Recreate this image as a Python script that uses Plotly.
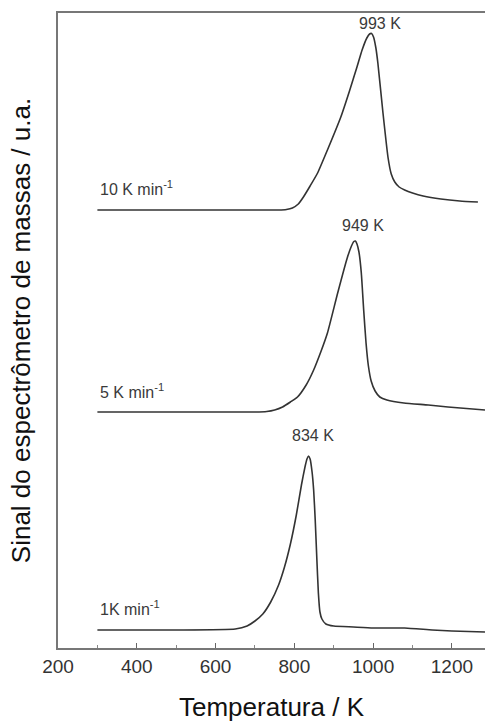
import plotly.graph_objects as go

# ---- data ----
t_10 = [300, 500, 700, 760, 780, 795, 810, 823, 840, 859, 884, 918, 940, 959, 972, 984, 991, 996, 1001, 1007, 1012, 1025, 1038, 1046, 1055, 1066, 1080, 1100, 1127, 1172, 1220, 1266]
s_10 = [438, 438, 438, 438, 438.5, 440, 444, 451, 462, 475, 498, 531, 557, 581, 598, 610, 614, 614.5, 611, 600, 585, 535, 490, 474, 466, 461, 458, 455, 452, 449, 447, 446]

t_5 = [300, 500, 700, 730, 750, 770, 790, 808, 830, 849, 868, 884, 910, 935, 945, 951, 955, 959, 964, 970, 976, 982, 988, 995, 1005, 1017, 1035, 1078, 1140, 1190, 1284]
s_5 = [236, 236, 236, 236.5, 238, 241, 246, 251, 263, 278, 297, 315, 355, 391, 402, 406.5, 407, 404, 396, 375, 338, 305, 282, 267, 257, 251, 248, 245, 243, 241, 238]

t_1 = [300, 500, 650, 680, 700, 720, 740, 760, 775, 790, 805, 818, 827, 832, 836, 840, 845, 849, 853, 857, 861, 865, 870, 880, 900, 950, 1000, 1080, 1150, 1200, 1284]
s_1 = [18, 18, 19, 22, 27, 34, 46, 63, 81, 104, 133, 163, 181, 189, 192, 189, 176, 158, 128, 90, 55, 36, 29, 24, 22, 21, 20, 20, 18, 17, 16]

rate_labels = ["10 K min<sup>-1</sup>", "5 K min<sup>-1</sup>", "1K min<sup>-1</sup>"]
rate_label_pos = [(302, 460), (302, 257), (302, 40)]
peak_labels = ["993 K", "949 K", "834 K"]
peak_label_pos = [(1017, 625), (974, 423), (847, 213)]

x_ticks = [200, 400, 600, 800, 1000, 1200]

line_color = "#333333"
font_family = "Liberation Sans, Arial, sans-serif"

fig = go.Figure()
for t, s in [(t_10, s_10), (t_5, s_5), (t_1, s_1)]:
    fig.add_trace(go.Scatter(x=t, y=s, mode="lines",
                             line=dict(color=line_color, width=1.6, shape="spline", smoothing=0.5),
                             showlegend=False, hoverinfo="skip"))

for txt, (x, y) in zip(rate_labels, rate_label_pos):
    fig.add_annotation(x=x, y=y, xref="x", yref="y", text=txt, showarrow=False,
                       xanchor="left", yanchor="middle",
                       font=dict(family=font_family, size=16, color="#3a3a3a"))
for txt, (x, y) in zip(peak_labels, peak_label_pos):
    fig.add_annotation(x=x, y=y, xref="x", yref="y", text=txt, showarrow=False,
                       xanchor="center", yanchor="middle",
                       font=dict(family=font_family, size=16, color="#3a3a3a"))

fig.update_layout(
    width=485, height=722,
    margin=dict(l=58, r=0, t=13, b=74),
    paper_bgcolor="white", plot_bgcolor="white",
    font=dict(family=font_family, color="#222222"),
    xaxis=dict(
        range=[200, 1284], tickvals=x_ticks, ticks="inside", ticklen=5, tickwidth=1,
        tickcolor="#666666", showline=True, linecolor="#777777", linewidth=1.5, mirror=True,
        showgrid=False, zeroline=False,
        minor=dict(ticks="inside", ticklen=3, dtick=100, tickcolor="#888888", showgrid=False),
        tickfont=dict(size=19, color="#333333"),
        title=dict(text="Temperatura / K", font=dict(size=26, color="#111111"), standoff=22),
    ),
    yaxis=dict(
        range=[0, 635], showticklabels=False, ticks="", showline=True, linecolor="#777777",
        linewidth=1.5, showgrid=False, zeroline=False,
        title=dict(text="Sinal do espectrômetro de massas / u.a.", font=dict(size=26, color="#111111"), standoff=18),
    ),
)

fig.write_html("out.html")
